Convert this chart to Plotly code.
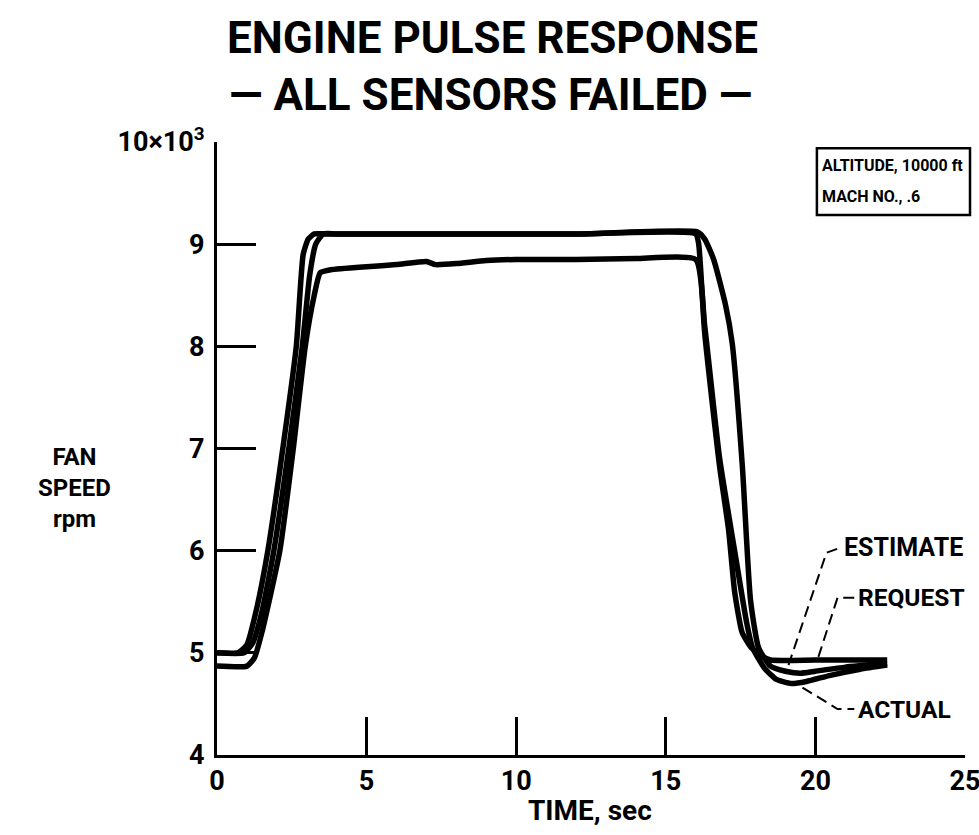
import plotly.graph_objects as go

# ---- data (time in sec, fan speed in thousands of rpm) ----
request_t = [0, 0.7, 1.0, 1.3, 1.7, 2.2, 2.65, 2.88, 3.05, 3.25, 3.6, 8, 12, 16.0, 16.1, 16.3, 16.8, 17.1, 17.3, 17.55, 17.83, 18.2, 18.5, 20, 22.4]
request_v = [5.0, 5.0, 5.08, 5.4, 6.0, 7.0, 8.0, 8.9, 9.05, 9.1, 9.1, 9.1, 9.1, 9.1, 9.0, 8.13, 6.82, 6.2, 5.6, 5.2, 5.06, 4.97, 4.93, 4.93, 4.93]

estimate_t = [0, 0.9, 1.2, 1.5, 1.9, 2.4, 2.85, 3.1, 3.3, 3.55, 4.0, 8, 12, 16.05, 16.3, 16.6, 17.0, 17.22, 17.56, 17.83, 18.1, 18.5, 19.0, 19.5, 20, 21, 22.4]
estimate_v = [5.0, 5.0, 5.1, 5.4, 6.0, 7.0, 8.0, 8.7, 9.0, 9.1, 9.1, 9.1, 9.1, 9.12, 9.05, 8.85, 8.4, 8.03, 6.82, 5.52, 5.05, 4.87, 4.82, 4.8, 4.82, 4.86, 4.9]

actual_t = [0, 1.0, 1.25, 1.5, 2.1, 2.55, 2.95, 3.25, 3.45, 3.8, 5, 6, 7, 7.3, 8, 9, 10, 12, 14, 16.0, 16.3, 16.8, 17.3, 17.7, 17.9, 18.3, 18.7, 19.2, 19.7, 20.5, 21.5, 22.4]
actual_v = [4.87, 4.87, 4.95, 5.2, 6.0, 7.0, 8.0, 8.5, 8.72, 8.75, 8.78, 8.8, 8.83, 8.80, 8.81, 8.84, 8.85, 8.85, 8.86, 8.85, 8.2, 6.9, 6.0, 5.3, 5.05, 4.85, 4.74, 4.70, 4.72, 4.78, 4.84, 4.88]

x_ticks = [0, 5, 10, 15, 20, 25]
y_ticks = [4, 5, 6, 7, 8, 9, 10]
y_ticktext = ["4", "5", "6", "7", "8", "9", "10×10<sup>3</sup>"]

# leader lines for the curve labels (annotation guides)
est_leader_t = [19.1, 20.37, 20.84]
est_leader_v = [4.88, 5.98, 6.03]
req_leader_t = [20.1, 20.74, 21.3]
req_leader_v = [4.96, 5.54, 5.54]
act_leader_t = [19.57, 20.74, 21.3]
act_leader_v = [4.66, 4.45, 4.45]

FONT = "Roboto, Liberation Sans, sans-serif"

fig = go.Figure()
for t, v in [(request_t, request_v), (estimate_t, estimate_v), (actual_t, actual_v)]:
    fig.add_trace(go.Scatter(x=t, y=v, mode="lines",
                             line=dict(color="black", width=5.5, shape="spline", smoothing=0.5),
                             showlegend=False, hoverinfo="skip"))
for t, v in [(est_leader_t, est_leader_v), (req_leader_t, req_leader_v), (act_leader_t, act_leader_v)]:
    fig.add_trace(go.Scatter(x=t, y=v, mode="lines",
                             line=dict(color="black", width=2, dash="11px,6px"),
                             showlegend=False, hoverinfo="skip"))

fig.update_layout(
    width=979, height=835, autosize=False,
    margin=dict(l=217, r=14, t=142, b=80),
    paper_bgcolor="white", plot_bgcolor="white",
    font=dict(family=FONT, color="black", size=26),
)
fig.update_xaxes(range=[0, 25], tickvals=x_ticks, ticks="inside", ticklen=38, tickwidth=3,
                 tickcolor="black", showline=True, linewidth=3, linecolor="black",
                 showgrid=False, zeroline=False, ticklabeloverflow="allow", automargin=False,
                 tickfont=dict(family=FONT, size=27, color="black", weight="bold"))
fig.update_yaxes(range=[4, 10], tickvals=y_ticks, ticktext=y_ticktext, ticks="inside",
                 ticklen=39, tickwidth=3, tickcolor="black", showline=True, linewidth=3,
                 linecolor="black", showgrid=False, zeroline=False, ticklabelstandoff=4,
                 ticklabeloverflow="allow", automargin=False,
                 tickfont=dict(family=FONT, size=27, color="black", weight="bold"))

def ann(text, x, y, size, xanchor="center", yanchor="middle", xref="paper", yref="paper", **kw):
    fig.add_annotation(text=text, x=x, y=y, xref=xref, yref=yref, showarrow=False,
                       xanchor=xanchor, yanchor=yanchor,
                       font=dict(family=FONT, size=size, color="black", weight="bold"), **kw)

ann("ENGINE PULSE RESPONSE", 0.368, 1.170, 44)
ann("— ALL SENSORS FAILED —", 0.366, 1.077, 44)
ann("FAN<br>SPEED<br>rpm", -0.19, 0.4356, 24)
ann("TIME, sec", 0.499, -0.090, 28)

# condition box
fig.add_shape(type="rect", xref="paper", yref="paper", x0=0.802, x1=1.0067, y0=0.881, y1=0.990,
              line=dict(color="black", width=2.5), fillcolor="white", layer="above")
ann("ALTITUDE, 10000 ft", 0.806, 0.961, 16, xanchor="left")
ann("MACH NO., .6", 0.806, 0.911, 16, xanchor="left")

ann("ESTIMATE", 20.9, 6.03, 25, xanchor="left", xref="x", yref="y")
ann("REQUEST", 21.35, 5.54, 24.5, xanchor="left", xref="x", yref="y")
ann("ACTUAL", 21.35, 4.45, 24.5, xanchor="left", xref="x", yref="y")

fig.write_html("out.html",
               config={"displayModeBar": False, "responsive": False},
               post_script="document.body.style.margin='0';document.body.style.overflow='hidden';")
